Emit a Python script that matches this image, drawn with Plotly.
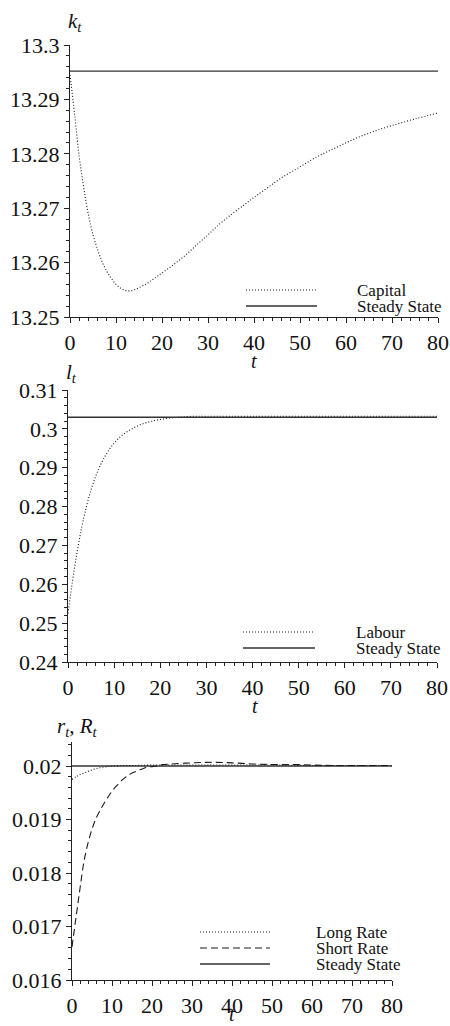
import plotly.graph_objects as go

# ---------------- data ----------------
t_cap = [0, 1, 2, 3, 4, 5, 6, 7, 8, 9, 10, 11, 12, 13, 14, 15, 16, 17, 18, 19, 20,
         22, 25, 28, 30, 32, 35, 38, 40, 43, 46, 50, 54, 58, 62, 66, 70, 75, 80]
capital = [13.2945, 13.2873, 13.2795, 13.2737, 13.2688, 13.2651, 13.2624, 13.2601,
           13.2584, 13.2571, 13.2560, 13.2553, 13.2549, 13.2548, 13.2550, 13.2554,
           13.2558, 13.2563, 13.2569, 13.2575, 13.2581, 13.2593, 13.2613, 13.2636,
           13.2651, 13.2667, 13.2688, 13.2707, 13.2720, 13.2738, 13.2756, 13.2776,
           13.2796, 13.2812, 13.2828, 13.2841, 13.2852, 13.2864, 13.2875]
capital_ss = 13.2952

t_lab = [0, 1, 2, 3, 4, 5, 6, 7, 8, 9, 10, 11, 12, 13, 14, 15, 16, 17, 18, 19, 20,
         21, 22, 23, 24, 25, 27, 30, 40, 50, 60, 70, 80]
labour = [0.2525, 0.2610, 0.2685, 0.2748, 0.2800, 0.2843, 0.2878, 0.2906, 0.2929,
          0.2948, 0.2963, 0.2976, 0.2986, 0.2994, 0.3001, 0.3007, 0.3012, 0.3016,
          0.3019, 0.3022, 0.3024, 0.3026, 0.3028, 0.3029, 0.3030, 0.3031, 0.30322,
          0.30324, 0.30325, 0.30325, 0.30325, 0.30325, 0.30325]
labour_ss = 0.3030

t_short = [0, 1, 2, 3, 4, 5, 6, 7, 8, 9, 10, 11, 12, 13, 14, 15, 16, 17, 18, 19, 20,
           21, 22, 25, 30, 35, 40, 45, 50, 55, 60, 65, 70, 80]
short_rate = [0.01662, 0.01717, 0.01771, 0.01822, 0.01856, 0.01882, 0.01902, 0.01917,
              0.01930, 0.01942, 0.01953, 0.01962, 0.01970, 0.01977, 0.01982, 0.01987,
              0.01990, 0.01993, 0.01996, 0.01998, 0.01999, 0.02000, 0.02002, 0.02004,
              0.02006, 0.02007, 0.02006, 0.02004, 0.02003, 0.02003, 0.02002, 0.02001,
              0.02001, 0.02001]
t_long = [0, 1, 2, 3, 4, 5, 6, 7, 8, 9, 10, 12, 15, 20, 30, 40, 50, 60, 70, 80]
long_rate = [0.01975, 0.01980, 0.01984, 0.01987, 0.01990, 0.01993, 0.01995, 0.01997,
             0.01998, 0.01999, 0.02000, 0.02001, 0.02001, 0.02002, 0.02002, 0.02002,
             0.02002, 0.02001, 0.02001, 0.02001]
rate_ss = 0.0200

t_span = [0, 80]

x_ticks = [0, 10, 20, 30, 40, 50, 60, 70, 80]
k_ticks = [13.25, 13.26, 13.27, 13.28, 13.29, 13.3]
k_labels = ["13.25", "13.26", "13.27", "13.28", "13.29", "13.3"]
l_ticks = [0.24, 0.25, 0.26, 0.27, 0.28, 0.29, 0.3, 0.31]
l_labels = ["0.24", "0.25", "0.26", "0.27", "0.28", "0.29", "0.3", "0.31"]
r_ticks = [0.016, 0.017, 0.018, 0.019, 0.02]
r_labels = ["0.016", "0.017", "0.018", "0.019", "0.02"]

# ---------------- figure ----------------
W, H = 450, 1026
FONT = '"Liberation Serif", "Times New Roman", serif'
INK = "#1a1a1a"
DOT = "1px,2px"
DASH = "7px,4px"

fig = go.Figure()

def px_x(p):
    return p / W

def px_y(p):
    return 1 - p / H

# panel rectangles in pixels (left, right, top, bottom)
panels = {
    1: (70, 438, 45, 317),
    2: (68, 437, 390, 662),
    3: (72, 392, 742, 980),
}

fig.add_trace(go.Scatter(x=t_cap, y=capital, mode="lines", line=dict(color=INK, width=1.1, dash=DOT, shape="spline"),
                         xaxis="x", yaxis="y", name="Capital", showlegend=False))
fig.add_trace(go.Scatter(x=t_span, y=[capital_ss] * 2, mode="lines", line=dict(color="#333", width=1.4),
                         xaxis="x", yaxis="y", name="Steady State", showlegend=False))

fig.add_trace(go.Scatter(x=t_lab, y=labour, mode="lines", line=dict(color=INK, width=1.1, dash=DOT, shape="spline"),
                         xaxis="x2", yaxis="y2", name="Labour", showlegend=False))
fig.add_trace(go.Scatter(x=t_span, y=[labour_ss] * 2, mode="lines", line=dict(color="#333", width=1.4),
                         xaxis="x2", yaxis="y2", name="Steady State", showlegend=False))

fig.add_trace(go.Scatter(x=t_span, y=[rate_ss] * 2, mode="lines", line=dict(color="#333", width=1.4),
                         xaxis="x3", yaxis="y3", name="Steady State", showlegend=False))
fig.add_trace(go.Scatter(x=t_long, y=long_rate, mode="lines", line=dict(color=INK, width=1.1, dash=DOT, shape="spline"),
                         xaxis="x3", yaxis="y3", name="Long Rate", showlegend=False))
fig.add_trace(go.Scatter(x=t_short, y=short_rate, mode="lines", line=dict(color=INK, width=1.1, dash=DASH, shape="spline"),
                         xaxis="x3", yaxis="y3", name="Short Rate", showlegend=False))

tickfont = dict(family=FONT, size=22, color="#111")

def xaxis_cfg(n):
    l, r, t, b = panels[n]
    return dict(domain=[px_x(l), px_x(r)], range=[0, 80], tickvals=x_ticks,
                ticktext=[str(v) for v in x_ticks], ticks="outside", ticklen=5, tickwidth=1,
                tickcolor="#222", showline=True, linecolor="#222", linewidth=1.2,
                showgrid=False, zeroline=False, tickfont=dict(tickfont), automargin=False,
                minor=dict(dtick=2, tick0=0, ticks="outside", ticklen=3, tickcolor="#222", showgrid=False),
                anchor="y" if n == 1 else f"y{n}")

def yaxis_cfg(n, rng, tv, tt, mdt):
    l, r, t, b = panels[n]
    return dict(domain=[px_y(b), px_y(t)], range=rng, tickvals=tv, ticktext=tt,
                ticks="outside", ticklen=5, tickwidth=1, tickcolor="#222",
                showline=True, linecolor="#222", linewidth=1.2, showgrid=False,
                zeroline=False, tickfont=dict(tickfont), automargin=False,
                minor=dict(dtick=mdt, tick0=tv[0], ticks="outside", ticklen=3, tickcolor="#222", showgrid=False),
                anchor="x" if n == 1 else f"x{n}")

fig.update_layout(
    width=W, height=H,
    margin=dict(l=0, r=0, t=0, b=0, pad=0),
    paper_bgcolor="white", plot_bgcolor="white",
    font=dict(family=FONT, color="#111"),
    xaxis=xaxis_cfg(1), xaxis2=xaxis_cfg(2), xaxis3=xaxis_cfg(3),
    yaxis=yaxis_cfg(1, [13.25, 13.3], k_ticks, k_labels, 0.002),
    yaxis2=yaxis_cfg(2, [0.24, 0.31], l_ticks, l_labels, 0.002),
    yaxis3=yaxis_cfg(3, [0.016, 0.02045], r_ticks, r_labels, 0.0002),
    showlegend=False,
)

annotations = []
shapes = []

def ann(text, xp, yp, size, xanchor="center", yanchor="middle"):
    annotations.append(dict(text=text, x=px_x(xp), y=px_y(yp), xref="paper", yref="paper",
                            showarrow=False, xanchor=xanchor, yanchor=yanchor, borderpad=0,
                            font=dict(family=FONT, size=size, color="#111")))

# axis titles
ann("<i>k<sub>t</sub></i>", 75, 22, 21)
ann("<i>t</i>", 254, 361, 20)
ann("<i>l<sub>t</sub></i>", 71, 373, 21)
ann("<i>t</i>", 255, 706, 20)
ann("<i>r<sub>t</sub></i>, <i>R<sub>t</sub></i>", 77, 727, 21)
ann("<i>t</i>", 232, 1026, 20, yanchor="bottom")

def legend_entry(x0, x1, yp, dash, label, xt):
    solid = dash == "solid"
    shapes.append(dict(type="line", xref="paper", yref="paper", x0=px_x(x0), x1=px_x(x1),
                       y0=px_y(yp), y1=px_y(yp),
                       line=dict(color="#333" if solid else INK, width=1.4 if solid else 1.1, dash=dash)))
    ann(label, xt, yp, 17, xanchor="left")

legend_entry(246, 317, 290, DOT, "Capital", 356)
legend_entry(246, 317, 306, "solid", "Steady State", 356)
legend_entry(243, 315, 632, DOT, "Labour", 355)
legend_entry(243, 315, 648, "solid", "Steady State", 355)
legend_entry(200, 270, 932, DOT, "Long Rate", 315)
legend_entry(200, 270, 948, DASH, "Short Rate", 315)
legend_entry(200, 270, 964, "solid", "Steady State", 315)

fig.update_layout(annotations=annotations, shapes=shapes)

fig.write_html(
    "out.html",
    config={"displayModeBar": False},
    post_script="document.body.style.margin='0';",
)
